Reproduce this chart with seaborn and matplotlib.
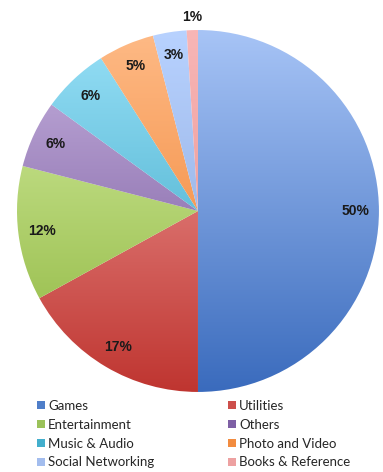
import numpy as np
import matplotlib
matplotlib.use("Agg")
import matplotlib.pyplot as plt
from matplotlib.patches import Patch
import seaborn as sns

categories = ["Games", "Utilities", "Entertainment", "Others",
              "Music & Audio", "Photo and Video", "Social Networking", "Books & Reference"]
shares = [50, 17, 12, 6, 6, 5, 3, 1]

# light (top) and dark (bottom) shades for each slice's vertical gradient
light_colors = ["#a7c4f6", "#f4a7a5", "#d8f0a6", "#c7b3e0", "#98e0f7", "#feba86", "#b8d2ff", "#f8b6b6"]
dark_colors = ["#3a6bbd", "#bf3530", "#8cb43b", "#6c4b92", "#2f9fbf", "#ee7a25", "#86a2d6", "#e58c8c"]
legend_colors = ["#4f7ec9", "#cd4f4b", "#9bc25a", "#7e60a5", "#43afcd", "#f28c40", "#a3bdee", "#eda1a1"]

sns.set_style("white")
plt.rcParams["font.family"] = ["Liberation Sans", "DejaVu Sans"]

fig = plt.figure(figsize=(3.83, 4.72), dpi=100)
ax = fig.add_axes([0.0444, 0.1695, 0.945, 0.767])

wedges, _ = ax.pie(shares, startangle=90, counterclock=False, radius=1.0,
                   wedgeprops=dict(linewidth=0, facecolor="none"))

grad = np.linspace(0, 1, 256).reshape(-1, 1)
for w, lc, dc in zip(wedges, light_colors, dark_colors):
    cmap = sns.blend_palette([dc, lc], as_cmap=True)
    im = ax.imshow(grad, extent=[-1, 1, -1, 1], origin="lower", cmap=cmap,
                   aspect="auto", interpolation="bilinear", zorder=1)
    im.set_clip_path(w)

# percentage labels at the middle angle of each slice
total = float(sum(shares))
start = 90.0
for i, v in enumerate(shares):
    mid = start - 360.0 * v / total / 2
    start -= 360.0 * v / total
    r = 1.07 if v / total < 0.02 else 0.87
    ax.text(r * np.cos(np.radians(mid)), r * np.sin(np.radians(mid)), f"{v}%",
            ha="center", va="center", fontsize=10, fontweight="bold", color="#1a1a1a", zorder=3)

ax.set_xlim(-1, 1)
ax.set_ylim(-1, 1)
ax.set_aspect("equal")
ax.axis("off")

handles = [Patch(facecolor=c, edgecolor="none", label=n) for n, c in zip(categories, legend_colors)]
order = [0, 2, 4, 6, 1, 3, 5, 7]
fig.legend([handles[i] for i in order], [categories[i] for i in order],
           ncol=2, loc="upper left", bbox_to_anchor=(0.065, 0.178), frameon=False,
           handlelength=0.6, handleheight=0.6, handletextpad=0.25,
           columnspacing=5.6, labelspacing=0.52, borderpad=0.4,
           prop={"family": "Lato", "size": 9.5})

fig.savefig("out.png", dpi=100, facecolor="white")
